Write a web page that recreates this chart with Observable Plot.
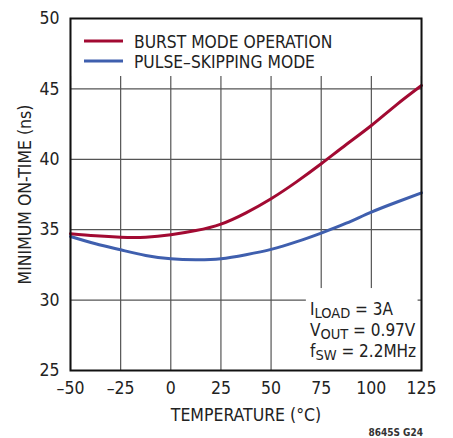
<!DOCTYPE html>
<html><head><meta charset="utf-8">
<script src="https://cdn.jsdelivr.net/npm/d3@7"></script>
<script src="https://cdn.jsdelivr.net/npm/@observablehq/plot@0.6"></script>
<style>
html,body{margin:0;padding:0;background:#fff;}
#chart{width:453px;height:438px;}
</style></head><body><div id="chart"></div>
<script>
const FONT = '"Liberation Sans Narrow","Arial Narrow","DejaVu Sans Condensed",sans-serif';

// data
const temps = [-50,-37.5,-25,-12.5,0,12.5,25,37.5,50,62.5,75,87.5,100,112.5,125];
const burstMode = [34.72,34.57,34.47,34.47,34.64,34.94,35.4,36.2,37.2,38.38,39.68,41.05,42.4,43.87,45.24];
const pulseSkipping = [34.52,34.0,33.57,33.17,32.93,32.86,32.93,33.22,33.6,34.13,34.76,35.46,36.25,36.95,37.62];
const seriesNames = ["BURST MODE OPERATION","PULSE\u2013SKIPPING MODE"];
const seriesColors = ["#a20a32","#3f5fae"];
const xTicks = [-50,-25,0,25,50,75,100,125];
const yTicks = [25,30,35,40,45,50];
const xLabel = "TEMPERATURE (\u00B0C)";
const yLabel = "MINIMUM ON-TIME (ns)";
const conditions = [["I","LOAD"," = 3A"],["V","OUT"," = 0.97V"],["f","SW"," = 2.2MHz"]];
const figureId = "8645S G24";
// white backing boxes (legend, conditions) in data units
const boxes = [{x1:-50,x2:125,y1:45.88,y2:50},{x1:67.6,x2:123.3,y1:25,y2:30.82}];

const burstData = temps.map((t,i)=>({t, v: burstMode[i]}));
const pulseData = temps.map((t,i)=>({t, v: pulseSkipping[i]}));

const fmt = d => d < 0 ? "\u2013" + Math.abs(d) : String(d);

const svg = Plot.plot({
  width: 453, height: 438,
  marginLeft: 70, marginRight: 32, marginTop: 18, marginBottom: 68,
  style: {fontFamily: FONT, fontSize: "17.5px", color: "#222", background: "white", overflow: "visible"},
  x: {domain: [-50,125]},
  y: {domain: [25,50]},
  marks: [
    Plot.ruleX(xTicks, {stroke: "#555", strokeWidth: 1.2}),
    Plot.ruleY(yTicks, {stroke: "#555", strokeWidth: 1.2}),
    Plot.rect(boxes, {x1:"x1", x2:"x2", y1:"y1", y2:"y2", fill:"white"}),
    Plot.line(pulseData, {x:"t", y:"v", stroke: seriesColors[1], strokeWidth: 3, curve: "natural"}),
    Plot.line(burstData, {x:"t", y:"v", stroke: seriesColors[0], strokeWidth: 3, curve: "natural"}),
    Plot.frame({stroke: "#111", strokeWidth: 2}),
    Plot.axisX({ticks: xTicks, tickSize: 0, tickPadding: 11, tickFormat: fmt, label: xLabel, labelAnchor: "center", labelArrow: "none", labelOffset: 50}),
    Plot.axisY({ticks: yTicks, tickSize: 0, tickPadding: 11, label: yLabel, labelAnchor: "center", labelArrow: "none", labelOffset: 52})
  ]
});

const s = d3.select(svg);
const g = s.append("g").attr("font-family", FONT).attr("fill", "#222").attr("text-anchor", "start");
// legend
const legendY = [41, 61];
seriesNames.forEach((name, i) => {
  g.append("line").attr("x1", 84).attr("x2", 123).attr("y1", legendY[i]).attr("y2", legendY[i])
    .attr("stroke", seriesColors[i]).attr("stroke-width", 3);
  g.append("text").attr("x", 134).attr("y", legendY[i] + 6.5).attr("font-size", 17.3).text(name);
});
// conditions
const condY = [315, 336, 357];
conditions.forEach((c, i) => {
  const t = g.append("text").attr("x", 310).attr("y", condY[i]).attr("font-size", 17);
  t.append("tspan").text(c[0]);
  t.append("tspan").attr("dy", 3).attr("font-size", 14.5).text(c[1]);
  t.append("tspan").attr("dy", -3).text(c[2]);
});
g.append("text").attr("x", 423).attr("y", 436).attr("text-anchor", "end")
  .attr("font-size", 10).attr("font-weight", "bold").attr("fill", "#333").text(figureId);

document.getElementById("chart").appendChild(svg);
</script>
</body></html>
